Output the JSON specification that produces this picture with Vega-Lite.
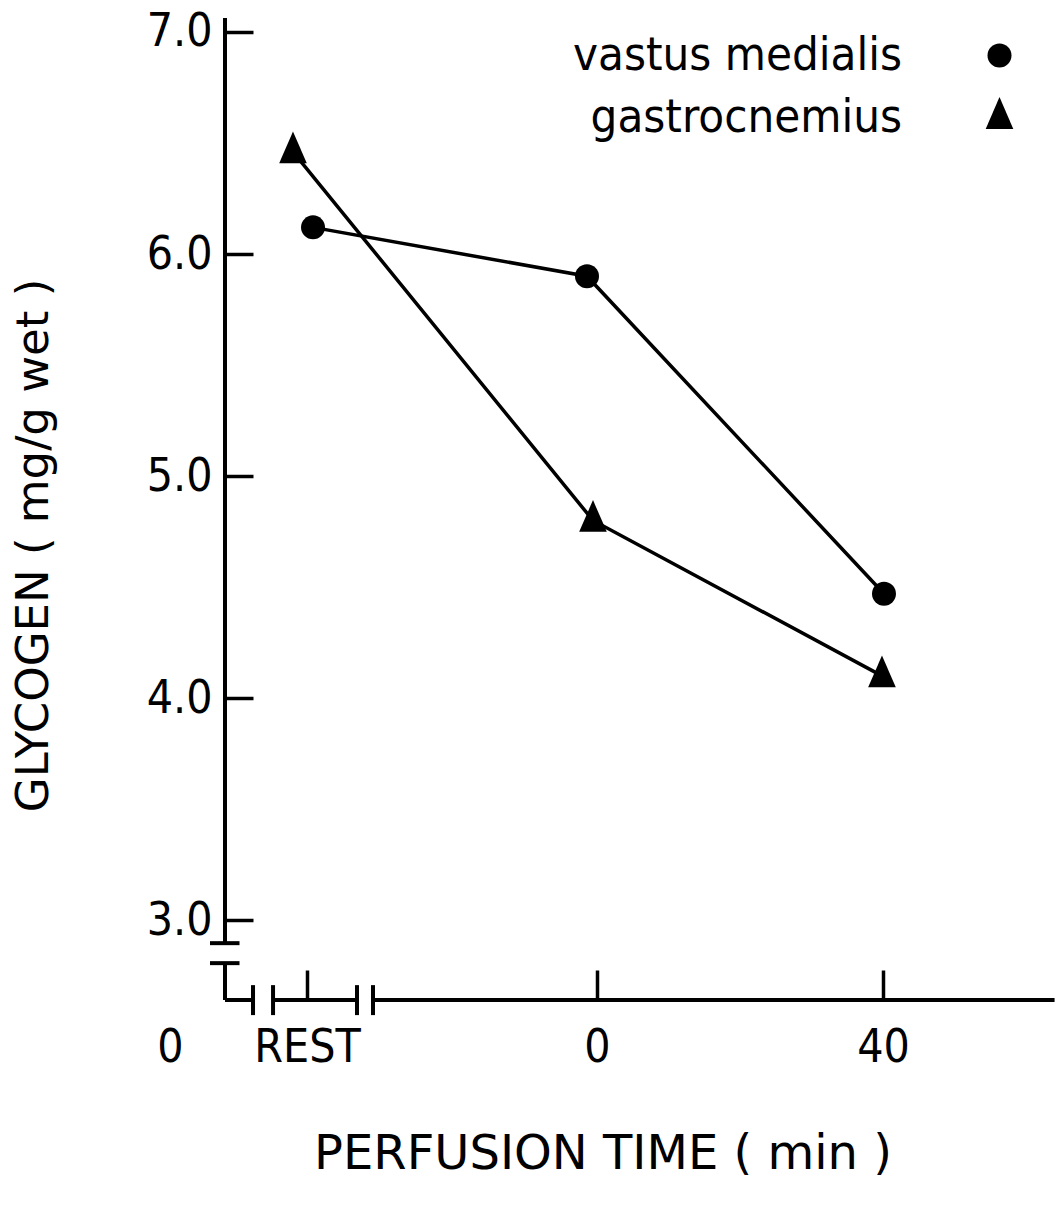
{
  "$schema": "https://vega.github.io/schema/vega-lite/v6.json",
  "width": 905,
  "height": 982,
  "autosize": {"type": "none"},
  "padding": {"left": 150, "top": 18, "right": 0, "bottom": 207},
  "background": "white",
  "config": {"view": {"stroke": null}, "font": "DejaVu Sans Condensed"},
  "datasets": {
    "glycogen": [
      {"muscle": "vastus medialis", "time": "REST", "x": -39.72, "glycogen": 6.12},
      {"muscle": "vastus medialis", "time": "0", "x": -1.4, "glycogen": 5.9},
      {"muscle": "vastus medialis", "time": "40", "x": 40.14, "glycogen": 4.47},
      {"muscle": "gastrocnemius", "time": "REST", "x": -42.52, "glycogen": 6.46},
      {"muscle": "gastrocnemius", "time": "0", "x": -0.56, "glycogen": 4.8},
      {"muscle": "gastrocnemius", "time": "40", "x": 39.86, "glycogen": 4.1}
    ],
    "xAxisSegments": [
      {"from": -52.03, "to": -48.11},
      {"from": -45.31, "to": -33.57},
      {"from": -31.33, "to": 64.0}
    ],
    "xBreaks": [{"at": -48.11}, {"at": -45.31}, {"at": -33.57}, {"at": -31.33}],
    "yAxisSegments": [
      {"from": 2.896, "to": 7.063},
      {"from": 2.64, "to": 2.806}
    ],
    "yBreaks": [{"at": 2.896}, {"at": 2.806}]
  },
  "layer": [
    {
      "data": {"name": "glycogen"},
      "mark": {"type": "line", "color": "black", "strokeWidth": 3.5},
      "encoding": {
        "x": {
          "field": "x", "type": "quantitative",
          "scale": {"domain": [-62.52, 64.06], "nice": false, "zero": false},
          "axis": {
            "orient": "bottom", "domain": false, "grid": false,
            "values": [-59.72, -40.56, 0, 40],
            "labelExpr": "datum.value < -50 ? '0' : (datum.value < -20 ? 'REST' : datum.label)",
            "tickSize": -30, "tickWidth": 3.5, "tickColor": "black",
            "tickOpacity": {"condition": {"test": "datum.value < -50", "value": 0}, "value": 1},
            "labelFont": "DejaVu Sans Condensed", "labelFontSize": 46, "labelColor": "black",
            "labelPadding": 55, "labelFlush": false, "labelOverlap": false,
            "title": "PERFUSION TIME ( min )", "titleFont": "DejaVu Sans",
            "titleFontSize": 48, "titleFontWeight": "normal", "titleColor": "black", "titlePadding": 60
          }
        },
        "y": {
          "field": "glycogen", "type": "quantitative",
          "scale": {"domain": [2.64, 7.063], "nice": false, "zero": false},
          "axis": {
            "orient": "left", "offset": -75, "domain": false, "grid": false,
            "values": [3, 4, 5, 6, 7], "format": ".1f",
            "tickSize": -28, "tickWidth": 3.5, "tickColor": "black",
            "labelFont": "DejaVu Sans Condensed", "labelFontSize": 46, "labelColor": "black",
            "labelPadding": 41, "labelFlush": false, "labelOverlap": false,
            "title": "GLYCOGEN ( mg/g wet )", "titleFont": "DejaVu Sans",
            "titleFontSize": 45, "titleFontWeight": "normal", "titleColor": "black", "titlePadding": 90,
            "titleY": 527
          }
        },
        "detail": {"field": "muscle", "type": "nominal"},
        "order": {"field": "x", "type": "quantitative"}
      }
    },
    {
      "data": {"name": "glycogen"},
      "mark": {"type": "point", "filled": true, "color": "black", "opacity": 1, "size": 576},
      "encoding": {
        "x": {"field": "x", "type": "quantitative", "scale": {"domain": [-62.52, 64.06], "nice": false, "zero": false}},
        "y": {"field": "glycogen", "type": "quantitative", "scale": {"domain": [2.64, 7.063], "nice": false, "zero": false}},
        "shape": {
          "field": "muscle", "type": "nominal",
          "scale": {"domain": ["vastus medialis", "gastrocnemius"], "range": ["circle", "M0,-1.7L1.15,0.95L-1.15,0.95Z"]},
          "legend": {
            "title": null, "orient": "none", "legendX": 826, "legendY": 14, "padding": 0,
            "labelFont": "DejaVu Sans Condensed", "labelFontSize": 47, "labelColor": "black",
            "labelAlign": "right", "labelOffset": -121, "labelLimit": 0, "rowPadding": 14,
            "symbolSize": 576, "symbolFillColor": "black", "symbolStrokeColor": "black", "symbolOpacity": 1,
            "symbolStrokeWidth": 0
          }
        }
      }
    },
    {
      "data": {"name": "xAxisSegments"},
      "mark": {"type": "rule", "color": "black", "strokeWidth": 4},
      "encoding": {
        "x": {"field": "from", "type": "quantitative", "scale": {"domain": [-62.52, 64.06], "nice": false, "zero": false}},
        "x2": {"field": "to"},
        "y": {"datum": 2.64, "type": "quantitative", "scale": {"domain": [2.64, 7.063], "nice": false, "zero": false}}
      }
    },
    {
      "data": {"name": "xBreaks"},
      "mark": {"type": "rule", "color": "black", "strokeWidth": 4},
      "encoding": {
        "x": {"field": "at", "type": "quantitative", "scale": {"domain": [-62.52, 64.06], "nice": false, "zero": false}},
        "y": {"datum": 2.707, "type": "quantitative", "scale": {"domain": [2.64, 7.063], "nice": false, "zero": false}},
        "y2": {"datum": 2.572}
      }
    },
    {
      "data": {"name": "yAxisSegments"},
      "mark": {"type": "rule", "color": "black", "strokeWidth": 4},
      "encoding": {
        "x": {"datum": -52.03, "type": "quantitative", "scale": {"domain": [-62.52, 64.06], "nice": false, "zero": false}},
        "y": {"field": "from", "type": "quantitative", "scale": {"domain": [2.64, 7.063], "nice": false, "zero": false}},
        "y2": {"field": "to"}
      }
    },
    {
      "data": {"name": "yBreaks"},
      "mark": {"type": "rule", "color": "black", "strokeWidth": 4},
      "encoding": {
        "x": {"datum": -54.13, "type": "quantitative", "scale": {"domain": [-62.52, 64.06], "nice": false, "zero": false}},
        "x2": {"datum": -50.0},
        "y": {"field": "at", "type": "quantitative", "scale": {"domain": [2.64, 7.063], "nice": false, "zero": false}}
      }
    }
  ]
}
